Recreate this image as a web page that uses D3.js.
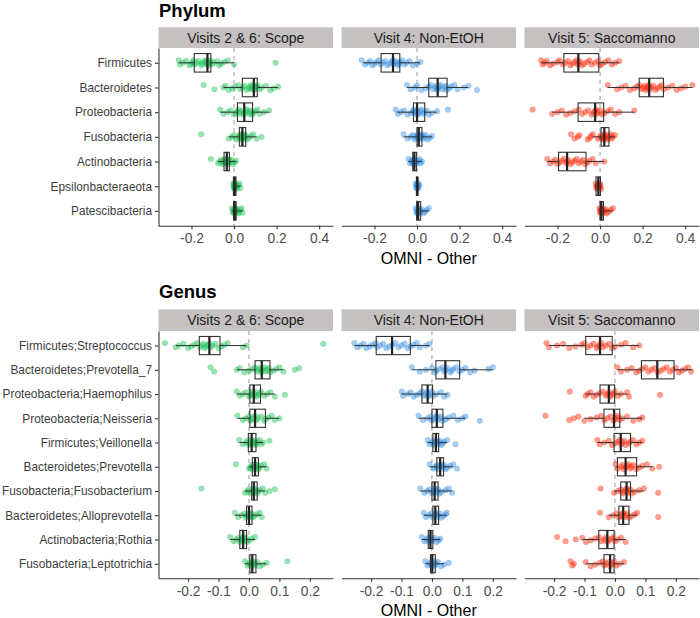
<!DOCTYPE html>
<html><head><meta charset="utf-8">
<script src="https://cdn.jsdelivr.net/npm/d3@7"></script>
<style>body{margin:0;background:#fff}svg{display:block}text{font-family:"Liberation Sans",Arial,sans-serif}</style>
</head><body>
<script>
// ---------- DATA ----------
const visits = ["Visits 2 & 6: Scope", "Visit 4: Non-EtOH", "Visit 5: Saccomanno"];
const visitColors = ["#1fc257", "#3790e2", "#ff2a0a"];
const phylumTaxa = ["Firmicutes","Bacteroidetes","Proteobacteria","Fusobacteria","Actinobacteria","Epsilonbacteraeota","Patescibacteria"];
const genusTaxa = ["Firmicutes;Streptococcus","Bacteroidetes;Prevotella_7","Proteobacteria;Haemophilus","Proteobacteria;Neisseria","Firmicutes;Veillonella","Bacteroidetes;Prevotella","Fusobacteria;Fusobacterium","Bacteroidetes;Alloprevotella","Actinobacteria;Rothia","Fusobacteria;Leptotrichia"];
const phylumTicks = [-0.2, 0.0, 0.2, 0.4];
const genusTicks = [-0.2, -0.1, 0.0, 0.1, 0.2];
const axisTitle = "OMNI - Other";

// box stats: [whiskerLow, q1, median, q3, whiskerHigh]
const phylumScopeBox = [[-0.26,-0.187,-0.125,-0.109,0.0],[-0.05,0.039,0.093,0.109,0.207],[-0.065,0.016,0.048,0.087,0.165],[-0.025,0.025,0.039,0.055,0.106],[-0.075,-0.047,-0.034,-0.022,0.01],[-0.004,-0.003,0.003,0.009,0.03],[-0.01,-0.002,0.003,0.01,0.04]];
const phylumNonEtohBox = [[-0.253,-0.169,-0.113,-0.081,0.013],[-0.047,0.055,0.097,0.141,0.242],[-0.094,-0.017,0.0,0.036,0.094],[-0.063,0.0,0.008,0.023,0.07],[-0.04,-0.02,-0.013,-0.003,0.023],[-0.006,-0.003,0.001,0.004,0.01],[-0.006,-0.002,0.005,0.017,0.055]];
const phylumSaccoBox = [[-0.277,-0.17,-0.102,-0.006,0.09],[0.036,0.184,0.231,0.298,0.434],[-0.225,-0.103,-0.023,0.017,0.161],[-0.034,0.005,0.02,0.042,0.07],[-0.248,-0.195,-0.155,-0.066,0.02],[-0.02,-0.019,-0.008,0.002,0.005],[-0.003,0.0,0.006,0.016,0.06]];
const genusScopeBox = [[-0.24,-0.163,-0.13,-0.095,-0.008],[-0.04,0.02,0.042,0.069,0.113],[-0.04,0.003,0.016,0.038,0.085],[-0.038,0.003,0.02,0.054,0.1],[-0.032,-0.002,0.009,0.023,0.047],[0.0,0.011,0.02,0.031,0.058],[-0.013,0.009,0.016,0.027,0.053],[-0.046,-0.008,0.0,0.01,0.042],[-0.062,-0.03,-0.019,-0.008,0.02],[-0.013,0.003,0.011,0.023,0.058]];
const genusNonEtohBox = [[-0.255,-0.183,-0.131,-0.071,-0.008],[-0.066,0.013,0.044,0.091,0.2],[-0.099,-0.033,-0.014,0.002,0.051],[-0.044,0.0,0.016,0.036,0.11],[-0.014,0.003,0.013,0.022,0.05],[-0.008,0.016,0.027,0.038,0.07],[-0.038,0.0,0.009,0.02,0.066],[-0.027,0.003,0.011,0.022,0.049],[-0.033,-0.012,-0.005,0.003,0.027],[-0.022,-0.005,0.001,0.011,0.04]];
const genusSaccoBox = [[-0.217,-0.096,-0.049,-0.009,0.08],[0.008,0.087,0.139,0.194,0.254],[-0.096,-0.049,-0.02,-0.001,0.04],[-0.1,-0.036,-0.003,0.016,0.09],[-0.058,-0.003,0.019,0.051,0.09],[0.002,0.008,0.035,0.071,0.123],[-0.003,0.019,0.038,0.051,0.095],[-0.02,0.013,0.027,0.046,0.073],[-0.107,-0.053,-0.025,-0.003,0.035],[-0.096,-0.036,-0.016,-0.003,0.03]];

// per-sample differences (one list per taxon)
const phylumScopePts = [
 [-0.26,-0.255,-0.24,-0.225,-0.21,-0.2,-0.195,-0.19,-0.185,-0.175,-0.165,-0.155,-0.15,-0.14,-0.135,-0.13,-0.128,-0.125,-0.122,-0.118,-0.115,-0.11,-0.105,-0.095,-0.08,-0.07,-0.06,-0.045,-0.03,0.0,0.195],
 [-0.143,-0.092,-0.05,-0.04,-0.025,-0.01,0.005,0.02,0.03,0.04,0.05,0.06,0.07,0.075,0.08,0.085,0.09,0.093,0.095,0.1,0.105,0.11,0.12,0.13,0.15,0.17,0.185,0.207],
 [-0.065,-0.05,-0.03,-0.015,0.0,0.01,0.015,0.02,0.025,0.03,0.04,0.045,0.05,0.055,0.06,0.07,0.075,0.08,0.085,0.09,0.1,0.11,0.12,0.14,0.165],
 [-0.154,-0.025,-0.01,0.0,0.01,0.02,0.025,0.028,0.03,0.033,0.035,0.038,0.04,0.042,0.045,0.048,0.05,0.055,0.06,0.07,0.08,0.09,0.106,0.129],
 [-0.109,-0.075,-0.068,-0.06,-0.055,-0.05,-0.047,-0.044,-0.04,-0.038,-0.035,-0.033,-0.03,-0.028,-0.025,-0.022,-0.018,-0.012,-0.005,0.003,0.01],
 [-0.004,-0.002,0.0,0.001,0.002,0.003,0.004,0.005,0.006,0.008,0.01,0.012,0.015,0.02,0.025,0.03],
 [-0.01,-0.006,-0.003,0.0,0.002,0.003,0.005,0.007,0.01,0.012,0.015,0.02,0.025,0.03,0.035,0.04]];
const phylumNonEtohPts = [
 [-0.26,-0.245,-0.23,-0.22,-0.21,-0.2,-0.19,-0.18,-0.17,-0.16,-0.15,-0.14,-0.13,-0.12,-0.115,-0.11,-0.105,-0.1,-0.09,-0.085,-0.08,-0.07,-0.06,-0.05,-0.035,-0.02,0.0,0.015],
 [-0.047,-0.03,-0.01,0.0,0.02,0.04,0.055,0.065,0.075,0.085,0.09,0.095,0.1,0.105,0.11,0.12,0.13,0.135,0.14,0.15,0.16,0.175,0.19,0.22,0.242,0.281],
 [-0.1,-0.09,-0.075,-0.06,-0.045,-0.03,-0.02,-0.015,-0.01,-0.005,0.0,0.003,0.008,0.015,0.02,0.03,0.035,0.045,0.055,0.07,0.094,0.145],
 [-0.063,-0.045,-0.03,-0.02,-0.01,-0.005,0.0,0.003,0.005,0.008,0.01,0.013,0.016,0.02,0.023,0.03,0.035,0.04,0.05,0.06,0.07],
 [-0.04,-0.033,-0.028,-0.022,-0.02,-0.017,-0.015,-0.013,-0.011,-0.009,-0.006,-0.003,0.0,0.005,0.012,0.018,0.023],
 [-0.006,-0.004,-0.002,0.0,0.001,0.002,0.003,0.004,0.006,0.008,0.01],
 [-0.006,-0.003,0.0,0.002,0.004,0.006,0.008,0.01,0.013,0.017,0.022,0.03,0.038,0.045,0.055]];
const phylumSaccoPts = [
 [-0.277,-0.27,-0.26,-0.25,-0.235,-0.22,-0.2,-0.19,-0.175,-0.165,-0.15,-0.14,-0.13,-0.12,-0.11,-0.105,-0.1,-0.095,-0.085,-0.075,-0.06,-0.05,-0.04,-0.025,-0.01,0.0,0.01,0.025,0.04,0.055,0.07,0.09],
 [0.036,0.08,0.1,0.12,0.14,0.16,0.175,0.185,0.195,0.2,0.21,0.215,0.22,0.225,0.23,0.235,0.24,0.25,0.26,0.27,0.28,0.29,0.3,0.32,0.34,0.36,0.38,0.4,0.434],
 [-0.317,-0.225,-0.2,-0.18,-0.16,-0.14,-0.12,-0.1,-0.085,-0.07,-0.055,-0.04,-0.03,-0.025,-0.02,-0.015,-0.01,0.0,0.01,0.02,0.035,0.05,0.07,0.09,0.161],
 [-0.136,-0.12,-0.105,-0.097,-0.058,-0.048,-0.042,-0.034,-0.01,0.0,0.005,0.01,0.013,0.016,0.02,0.022,0.025,0.03,0.035,0.04,0.045,0.05,0.055,0.06,0.07],
 [-0.248,-0.235,-0.22,-0.21,-0.2,-0.19,-0.18,-0.17,-0.16,-0.155,-0.15,-0.14,-0.13,-0.12,-0.11,-0.1,-0.09,-0.08,-0.07,-0.06,-0.05,-0.035,-0.02,0.02],
 [-0.02,-0.018,-0.015,-0.012,-0.01,-0.008,-0.006,-0.004,-0.002,0.0,0.002,0.005],
 [-0.003,0.0,0.002,0.004,0.006,0.008,0.01,0.013,0.016,0.02,0.025,0.03,0.04,0.05,0.06]];
const genusScopePts = [
 [-0.276,-0.24,-0.23,-0.215,-0.2,-0.19,-0.18,-0.17,-0.16,-0.155,-0.15,-0.145,-0.14,-0.135,-0.13,-0.125,-0.12,-0.11,-0.1,-0.09,-0.08,-0.07,-0.02,-0.008,0.244],
 [-0.126,-0.114,-0.04,-0.03,-0.015,0.0,0.01,0.02,0.025,0.03,0.035,0.04,0.042,0.045,0.05,0.055,0.06,0.065,0.07,0.08,0.09,0.1,0.113,0.151,0.165],
 [-0.04,-0.03,-0.02,-0.01,0.0,0.005,0.008,0.012,0.015,0.018,0.02,0.025,0.03,0.035,0.04,0.05,0.06,0.07,0.085,0.118],
 [-0.038,-0.02,-0.01,0.0,0.005,0.01,0.015,0.02,0.025,0.03,0.04,0.05,0.055,0.065,0.075,0.085,0.1],
 [-0.032,-0.02,-0.01,-0.005,0.0,0.003,0.006,0.009,0.012,0.015,0.018,0.022,0.025,0.03,0.035,0.04,0.047,0.067],
 [-0.043,0.0,0.005,0.01,0.012,0.015,0.017,0.02,0.022,0.025,0.028,0.031,0.035,0.04,0.05,0.058],
 [-0.156,-0.013,-0.005,0.0,0.005,0.009,0.012,0.015,0.017,0.02,0.023,0.027,0.03,0.035,0.045,0.053,0.067,0.085],
 [-0.046,-0.035,-0.025,-0.015,-0.01,-0.006,-0.003,0.0,0.002,0.005,0.008,0.012,0.018,0.025,0.035,0.042],
 [-0.062,-0.05,-0.042,-0.035,-0.03,-0.026,-0.022,-0.019,-0.016,-0.013,-0.01,-0.006,0.0,0.01,0.02],
 [-0.013,-0.005,0.0,0.004,0.007,0.01,0.012,0.015,0.018,0.022,0.028,0.035,0.045,0.058,0.126]];
const genusNonEtohPts = [
 [-0.255,-0.245,-0.235,-0.225,-0.215,-0.205,-0.195,-0.185,-0.18,-0.17,-0.16,-0.15,-0.14,-0.13,-0.12,-0.11,-0.1,-0.09,-0.08,-0.07,-0.06,-0.05,-0.04,-0.02,-0.008],
 [-0.066,-0.04,-0.02,0.0,0.01,0.015,0.025,0.035,0.04,0.045,0.05,0.06,0.065,0.07,0.08,0.09,0.1,0.11,0.125,0.14,0.185,0.2],
 [-0.099,-0.095,-0.08,-0.07,-0.06,-0.05,-0.04,-0.033,-0.028,-0.022,-0.018,-0.014,-0.01,-0.005,0.0,0.005,0.015,0.03,0.04,0.051],
 [-0.044,-0.03,-0.015,-0.005,0.0,0.005,0.01,0.015,0.02,0.025,0.03,0.036,0.045,0.055,0.07,0.085,0.1,0.11,0.157],
 [-0.014,-0.008,0.0,0.004,0.007,0.01,0.013,0.016,0.019,0.022,0.026,0.03,0.035,0.04,0.05,0.077],
 [-0.008,0.005,0.012,0.016,0.02,0.023,0.027,0.03,0.033,0.036,0.04,0.045,0.05,0.06,0.07,0.082],
 [-0.038,-0.025,-0.015,-0.008,0.0,0.004,0.007,0.01,0.013,0.017,0.02,0.025,0.032,0.045,0.055,0.066],
 [-0.027,-0.02,-0.01,-0.003,0.003,0.007,0.01,0.013,0.016,0.02,0.025,0.03,0.037,0.045,0.049],
 [-0.033,-0.025,-0.018,-0.013,-0.01,-0.007,-0.005,-0.003,0.0,0.003,0.008,0.015,0.022,0.027],
 [-0.022,-0.015,-0.008,-0.004,0.0,0.002,0.005,0.008,0.011,0.015,0.02,0.03,0.04,0.055]];
const genusSaccoPts = [
 [-0.225,-0.217,-0.19,-0.17,-0.15,-0.13,-0.11,-0.1,-0.09,-0.08,-0.07,-0.06,-0.055,-0.05,-0.045,-0.04,-0.03,-0.02,-0.01,0.0,0.02,0.035,0.06,0.08],
 [0.008,0.02,0.04,0.055,0.07,0.08,0.09,0.1,0.11,0.12,0.13,0.14,0.15,0.16,0.17,0.18,0.19,0.2,0.21,0.22,0.23,0.24,0.25],
 [-0.148,-0.096,-0.09,-0.08,-0.07,-0.06,-0.05,-0.04,-0.03,-0.025,-0.02,-0.015,-0.01,-0.005,0.0,0.01,0.02,0.04,0.046,0.148],
 [-0.228,-0.15,-0.135,-0.12,-0.1,-0.08,-0.06,-0.045,-0.035,-0.025,-0.015,-0.005,0.0,0.005,0.01,0.015,0.025,0.04,0.06,0.08,0.09],
 [-0.058,-0.05,-0.035,-0.02,-0.01,0.0,0.008,0.015,0.02,0.025,0.03,0.035,0.045,0.05,0.06,0.07,0.08,0.09],
 [0.002,0.01,0.02,0.025,0.03,0.035,0.04,0.045,0.05,0.055,0.06,0.07,0.08,0.09,0.105,0.123,0.145],
 [-0.047,-0.003,0.01,0.02,0.025,0.03,0.035,0.038,0.042,0.046,0.05,0.055,0.065,0.08,0.095,0.142],
 [-0.049,-0.02,-0.005,0.005,0.013,0.018,0.022,0.027,0.031,0.035,0.04,0.046,0.055,0.065,0.073,0.142],
 [-0.19,-0.162,-0.129,-0.107,-0.095,-0.08,-0.065,-0.053,-0.045,-0.035,-0.03,-0.025,-0.02,-0.012,-0.005,0.0,0.01,0.02,0.035],
 [-0.146,-0.14,-0.135,-0.096,-0.08,-0.065,-0.05,-0.04,-0.035,-0.028,-0.022,-0.016,-0.012,-0.008,-0.003,0.005,0.015,0.03]];

// ---------- LAYOUT ----------
const W = 700, H = 618;
const panelLeft = 158.5, panelW = 174.5, panelGap = 8.5;
const svg = d3.select("body").append("svg").attr("width", W).attr("height", H);

const sections = [
  {title:"Phylum", titleY:16.5, stripTop:27.3, panelTop:48, panelBottom:225.7, domain:[-0.355,0.465], ticks:phylumTicks,
   taxa:phylumTaxa, boxes:[phylumScopeBox, phylumNonEtohBox, phylumSaccoBox], pts:[phylumScopePts, phylumNonEtohPts, phylumSaccoPts]},
  {title:"Genus", titleY:297.5, stripTop:309.3, panelTop:331, panelBottom:578.3, domain:[-0.297,0.276], ticks:genusTicks,
   taxa:genusTaxa, boxes:[genusScopeBox, genusNonEtohBox, genusSaccoBox], pts:[genusScopePts, genusNonEtohPts, genusSaccoPts]}
];

const fmt = v => (v < 0 ? "-" : "") + Math.abs(v).toFixed(1);

sections.forEach(sec => {
  svg.append("text").attr("x", panelLeft + 0.5).attr("y", sec.titleY)
    .attr("font-size", 18.5).attr("font-weight", "bold").attr("fill", "#000").text(sec.title);
  const ph = sec.panelBottom - sec.panelTop;
  const y = d3.scalePoint().domain(sec.taxa).range([0, ph]).padding(0.6);
  const step = y.step();
  const boxH = step * 0.75;
  const x = d3.scaleLinear().domain(sec.domain).range([0, panelW]);

  visits.forEach((v, vi) => {
    const px = panelLeft + vi * (panelW + panelGap);
    // strip
    svg.append("rect").attr("x", px).attr("y", sec.stripTop).attr("width", panelW)
      .attr("height", sec.panelTop - sec.stripTop).attr("fill", "#c5c1c1");
    svg.append("text").attr("x", px + panelW / 2).attr("y", (sec.stripTop + sec.panelTop) / 2 + 4.9)
      .attr("text-anchor", "middle").attr("font-size", 14).attr("fill", "#1a1a1a").text(v);

    const g = svg.append("g").attr("transform", `translate(${px},${sec.panelTop})`);
    // zero line
    g.append("line").attr("x1", x(0)).attr("x2", x(0)).attr("y1", 0).attr("y2", ph)
      .attr("stroke", "#9a9a9a").attr("stroke-width", 1).attr("stroke-dasharray", "4,4");

    // points
    const color = visitColors[vi];
    sec.taxa.forEach((t, ti) => {
      const vals = sec.pts[vi][ti];
      g.append("g").selectAll("circle").data(vals).join("circle")
        .attr("cx", d => x(d))
        .attr("cy", (d, i) => y(t) + (((i * 5) % 7) - 3) * 0.85)
        .attr("r", 2.8)
        .attr("fill", color).attr("fill-opacity", 0.45)
        .attr("stroke", color).attr("stroke-opacity", 0.3).attr("stroke-width", 0.6);
    });

    // boxes
    const bg = g.append("g").selectAll("g").data(sec.boxes[vi]).join("g")
      .attr("transform", (d, i) => `translate(0,${y(sec.taxa[i])})`);
    bg.append("line").attr("x1", d => x(d[0])).attr("x2", d => x(d[1])).attr("y1", 0).attr("y2", 0)
      .attr("stroke", "#333").attr("stroke-width", 1);
    bg.append("line").attr("x1", d => x(d[3])).attr("x2", d => x(d[4])).attr("y1", 0).attr("y2", 0)
      .attr("stroke", "#333").attr("stroke-width", 1);
    bg.append("rect").attr("x", d => x(d[1])).attr("width", d => Math.max(0.5, x(d[3]) - x(d[1])))
      .attr("y", -boxH / 2).attr("height", boxH)
      .attr("fill", "none").attr("stroke", "#333").attr("stroke-width", 1.1);
    bg.append("line").attr("x1", d => x(d[2])).attr("x2", d => x(d[2])).attr("y1", -boxH / 2).attr("y2", boxH / 2)
      .attr("stroke", "#222").attr("stroke-width", 2.2);

    // x axis
    const ax = g.append("g").attr("transform", `translate(0,${ph})`)
      .call(d3.axisBottom(x).tickValues(sec.ticks).tickFormat(fmt).tickSizeOuter(0).tickSizeInner(3.5).tickPadding(4.5));
    ax.select(".domain").attr("stroke", "#333").attr("stroke-width", 1.1);
    ax.selectAll(".tick line").attr("stroke", "#333").attr("stroke-width", 1.1);
    ax.selectAll(".tick text").attr("font-size", 13.8).attr("fill", "#4d4d4d")
      .attr("font-family", "Liberation Sans, Arial, sans-serif");

    if (vi === 0) {
      const ay = g.append("g").call(d3.axisLeft(y).tickSizeOuter(0).tickSizeInner(3.5).tickPadding(3));
      ay.select(".domain").attr("stroke", "#333").attr("stroke-width", 1.1);
      ay.selectAll(".tick line").attr("stroke", "#333").attr("stroke-width", 1.1);
      ay.selectAll(".tick text").attr("font-size", 11.85).attr("fill", "#3d3d3d")
        .attr("font-family", "Liberation Sans, Arial, sans-serif");
    }
  });
  // axis title
  svg.append("text").attr("x", panelLeft + 1.5 * panelW + panelGap).attr("y", sec.panelBottom + 38)
    .attr("text-anchor", "middle").attr("font-size", 16).attr("fill", "#000").text(axisTitle);
});
</script>
</body></html>
